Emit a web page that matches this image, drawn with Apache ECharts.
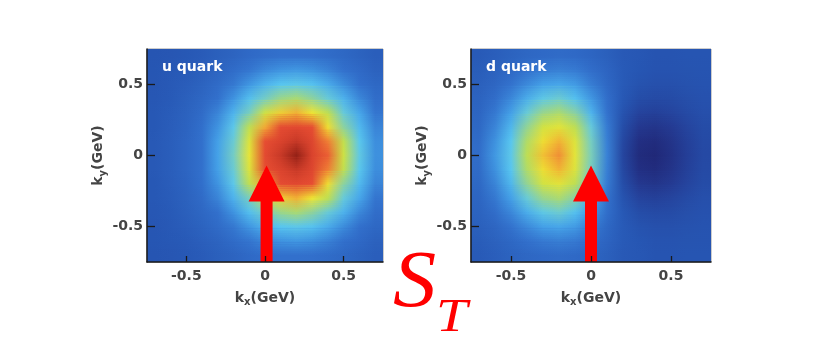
<!DOCTYPE html>
<html>
<head>
<meta charset="utf-8">
<script src="https://cdn.jsdelivr.net/npm/echarts@6/dist/echarts.min.js"></script>
<style>
html,body{margin:0;padding:0;background:#fff;}
#chart{width:832px;height:356px;}
</style>
</head>
<body>
<div id="chart"></div>
<script>
// grid of transverse momenta (GeV), cell centres
const kxValues = [-0.7,-0.6,-0.5,-0.4,-0.3,-0.2,-0.1,0,0.1,0.2,0.3,0.4,0.5,0.6,0.7];
const kyValues = [-0.7,-0.6,-0.5,-0.4,-0.3,-0.2,-0.1,0,0.1,0.2,0.3,0.4,0.5,0.6,0.7];
const tickValues = [-0.5, 0, 0.5];

// u quark density (rows: ky from -0.7 up to 0.7; columns: kx from -0.7 to 0.7)
const uDensity = [
  [0,0.005,0.012,0.022,0.04,0.055,0.075,0.09,0.10,0.10,0.097,0.085,0.07,0.05,0.035],
  [0.003,0.01,0.02,0.038,0.055,0.085,0.11,0.145,0.17,0.18,0.165,0.135,0.10,0.075,0.048],
  [0.005,0.014,0.03,0.05,0.08,0.115,0.175,0.245,0.30,0.31,0.29,0.225,0.155,0.10,0.07],
  [0.008,0.018,0.04,0.065,0.10,0.17,0.28,0.36,0.435,0.46,0.415,0.335,0.245,0.147,0.09],
  [0.01,0.025,0.048,0.08,0.14,0.245,0.37,0.525,0.63,0.67,0.60,0.49,0.33,0.21,0.11],
  [0.012,0.03,0.053,0.095,0.17,0.31,0.49,0.68,0.82,0.84,0.81,0.61,0.41,0.265,0.14],
  [0.015,0.033,0.06,0.10,0.195,0.34,0.555,0.81,0.88,0.92,0.86,0.735,0.495,0.305,0.16],
  [0.015,0.035,0.06,0.10,0.20,0.36,0.58,0.83,0.92,0.99,0.88,0.78,0.52,0.32,0.165],
  [0.015,0.033,0.06,0.10,0.195,0.34,0.555,0.81,0.88,0.92,0.86,0.735,0.495,0.305,0.16],
  [0.012,0.03,0.053,0.095,0.17,0.31,0.49,0.68,0.82,0.84,0.81,0.61,0.41,0.265,0.14],
  [0.01,0.025,0.048,0.08,0.14,0.245,0.37,0.525,0.63,0.67,0.60,0.49,0.33,0.21,0.11],
  [0.008,0.018,0.04,0.065,0.10,0.17,0.28,0.36,0.435,0.46,0.415,0.335,0.245,0.147,0.09],
  [0.005,0.014,0.03,0.05,0.08,0.115,0.175,0.245,0.30,0.31,0.29,0.225,0.155,0.10,0.07],
  [0.003,0.01,0.02,0.038,0.055,0.085,0.11,0.145,0.17,0.18,0.165,0.135,0.10,0.075,0.048],
  [0,0.005,0.012,0.022,0.04,0.055,0.075,0.09,0.10,0.10,0.097,0.085,0.07,0.05,0.035]
];

// d quark density (same layout)
const dDensity = [
  [0.02,0.035,0.05,0.065,0.075,0.08,0.075,0.06,0.04,0.015,0.006,-0.002,-0.002,-0.001,0],
  [0.028,0.047,0.07,0.10,0.12,0.13,0.12,0.09,0.056,0.02,0.002,-0.007,-0.007,-0.005,-0.002],
  [0.04,0.063,0.105,0.15,0.195,0.21,0.185,0.125,0.07,0.018,-0.008,-0.018,-0.018,-0.012,-0.006],
  [0.05,0.09,0.145,0.23,0.315,0.345,0.286,0.18,0.093,0.01,-0.03,-0.042,-0.036,-0.024,-0.013],
  [0.06,0.115,0.195,0.335,0.43,0.46,0.403,0.25,0.105,-0.008,-0.065,-0.078,-0.064,-0.04,-0.022],
  [0.07,0.14,0.255,0.42,0.53,0.568,0.49,0.332,0.122,-0.03,-0.11,-0.125,-0.10,-0.062,-0.034],
  [0.082,0.165,0.30,0.47,0.61,0.666,0.556,0.365,0.13,-0.05,-0.148,-0.162,-0.128,-0.078,-0.042],
  [0.09,0.18,0.31,0.49,0.65,0.716,0.575,0.378,0.135,-0.06,-0.165,-0.18,-0.14,-0.085,-0.045],
  [0.082,0.165,0.30,0.47,0.61,0.666,0.556,0.365,0.13,-0.05,-0.148,-0.162,-0.128,-0.078,-0.042],
  [0.07,0.14,0.255,0.42,0.53,0.568,0.49,0.332,0.122,-0.03,-0.11,-0.125,-0.10,-0.062,-0.034],
  [0.06,0.115,0.195,0.335,0.43,0.46,0.403,0.25,0.105,-0.008,-0.065,-0.078,-0.064,-0.04,-0.022],
  [0.05,0.09,0.145,0.23,0.315,0.345,0.286,0.18,0.093,0.01,-0.03,-0.042,-0.036,-0.024,-0.013],
  [0.04,0.063,0.105,0.15,0.195,0.21,0.185,0.125,0.07,0.018,-0.008,-0.018,-0.018,-0.012,-0.006],
  [0.028,0.047,0.07,0.10,0.12,0.13,0.12,0.09,0.056,0.02,0.002,-0.007,-0.007,-0.005,-0.002],
  [0.02,0.035,0.05,0.065,0.075,0.08,0.075,0.06,0.04,0.015,0.006,-0.002,-0.002,-0.001,0]
];

// spin arrows: [kx, tail ky, tip ky]
const uArrow = [[0.01, -0.75, -0.07]];
const dArrow = [[0.0, -0.75, -0.07]];

const panelTitles = ['u quark', 'd quark'];

// colour scale (evenly spaced from -0.2 to 1.0)
const CMIN = -0.2, CMAX = 1.0;
const CMAP = ['#1f2472', '#243a92', '#2655b2', '#3270cc', '#45a2e8', '#58c6f0', '#86d0a8',
              '#c4e04a', '#eee533', '#f29a35', '#e84e33', '#d6402c', '#8c1c14'];
const CMAP_RGB = CMAP.map(h => [parseInt(h.slice(1, 3), 16), parseInt(h.slice(3, 5), 16), parseInt(h.slice(5, 7), 16)]);
function colorOf(v) {
  let t = (v - CMIN) / (CMAX - CMIN);
  t = Math.max(0, Math.min(1, t)) * (CMAP.length - 1);
  const a = Math.floor(t), b = Math.min(a + 1, CMAP.length - 1), f = t - a;
  const c = [0, 1, 2].map(k => Math.round(CMAP_RGB[a][k] + (CMAP_RGB[b][k] - CMAP_RGB[a][k]) * f));
  return 'rgb(' + c.join(',') + ')';
}

const FONT = 'DejaVu Sans';
const TXT = '#444444';
const grids = [
  {left: 147, top: 49, width: 236, height: 213},
  {left: 471, top: 49, width: 240, height: 213}
];

const xAxes = [], yAxes = [], series = [];
const nameRich = {s: {fontSize: 10, fontWeight: 'bold', lineHeight: 20, verticalAlign: 'bottom', fontFamily: FONT, color: TXT}};
grids.forEach((g, gi) => {
  xAxes.push({type: 'category', gridIndex: gi, data: kxValues, show: false, position: 'top'});
  yAxes.push({type: 'category', gridIndex: gi, data: kyValues, show: false, position: 'right'});
  xAxes.push({
    type: 'value', gridIndex: gi, min: -0.75, max: 0.75, splitNumber: 3, z: 10, position: 'bottom',
    axisLine: {show: true, onZero: false, lineStyle: {color: '#1a1a1a', width: 1.5}},
    axisTick: {show: true, inside: true, length: 6, customValues: tickValues, lineStyle: {color: '#1a1a1a', width: 1.3}},
    axisLabel: {customValues: tickValues, color: TXT, fontSize: 14, fontWeight: 'bold', fontFamily: FONT, margin: 7,
      formatter: v => (Math.abs(v) === 0.75 ? '' : String(v))},
    splitLine: {show: false},
    name: 'k{s|x}(GeV)', nameLocation: 'middle', nameGap: 24,
    nameTextStyle: {color: TXT, fontSize: 14, fontWeight: 'bold', fontFamily: FONT, lineHeight: 20, rich: nameRich}
  });
  yAxes.push({
    type: 'value', gridIndex: gi, min: -0.75, max: 0.75, splitNumber: 3, z: 10, position: 'left',
    axisLine: {show: true, onZero: false, lineStyle: {color: '#1a1a1a', width: 1.5}},
    axisTick: {show: true, inside: true, length: 8, customValues: tickValues, lineStyle: {color: '#1a1a1a', width: 1.3}},
    axisLabel: {customValues: tickValues, color: TXT, fontSize: 14, fontWeight: 'bold', fontFamily: FONT, margin: 4,
      formatter: v => (Math.abs(v) === 0.75 ? '' : String(v))},
    splitLine: {show: false},
    name: 'k{s|y}(GeV)', nameLocation: 'middle', nameGap: 26,
    nameTextStyle: {color: TXT, fontSize: 14, fontWeight: 'bold', fontFamily: FONT, lineHeight: 20, rich: nameRich}
  });
});

// smooth (gouraud-like) rendering of the density rows: each row is a horizontal colour
// gradient through its cell centres, blended towards the next row with stepped opacity
function smoothRender(matrix) {
  const K = 8;
  return function (params, api) {
    const j = params.dataIndex;
    const nRows = matrix.length, nCols = matrix[j].length;
    const cs = params.coordSys;
    const left = cs.x, width = cs.width;
    function grad(row) {
      const stops = [{offset: 0, color: colorOf(row[0])}];
      for (let i = 0; i < nCols; i++) {
        const px = api.coord([i, j])[0];
        stops.push({offset: (px - left) / width, color: colorOf(row[i])});
      }
      stops.push({offset: 1, color: colorOf(row[nCols - 1])});
      return new echarts.graphic.LinearGradient(0, 0, 1, 0, stops);
    }
    const yc = api.coord([0, j])[1];
    const h = api.size([1, 1])[1];
    const children = [];
    if (j === 0) {
      children.push({type: 'rect', shape: {x: left, y: yc - 0.5, width: width, height: h / 2 + 1}, style: {fill: grad(matrix[0])}});
    }
    if (j === nRows - 1) {
      children.push({type: 'rect', shape: {x: left, y: yc - h / 2 - 0.5, width: width, height: h / 2 + 1}, style: {fill: grad(matrix[j])}});
    } else {
      children.push({type: 'rect', shape: {x: left, y: yc - h - 0.5, width: width, height: h + 1}, style: {fill: grad(matrix[j])}});
      const g2 = grad(matrix[j + 1]);
      for (let k = 0; k < K; k++) {
        const y1 = yc - h * (k + 1) / K;
        const y0 = yc - h * k / K;
        children.push({type: 'rect', shape: {x: left, y: y1, width: width, height: y0 - y1},
          style: {fill: g2, opacity: (k + 0.5) / K}});
      }
    }
    return {type: 'group', children: children};
  };
}
series.push({type: 'custom', xAxisIndex: 0, yAxisIndex: 0, data: uDensity.map((row, j) => [0, j]),
  renderItem: smoothRender(uDensity), encode: {x: 0, y: 1}, clip: true, silent: true, z: 2});
series.push({type: 'custom', xAxisIndex: 2, yAxisIndex: 2, data: dDensity.map((row, j) => [0, j]),
  renderItem: smoothRender(dDensity), encode: {x: 0, y: 1}, clip: true, silent: true, z: 2});

function arrowRender(params, api) {
  const tail = api.coord([api.value(0), api.value(1)]);
  const tip = api.coord([api.value(0), api.value(2)]);
  const sw = 6, hw = 18, hl = 36;
  const x = tip[0];
  return {
    type: 'polygon',
    shape: {points: [
      [x - sw, tail[1]], [x - sw, tip[1] + hl], [x - hw, tip[1] + hl], [x, tip[1]],
      [x + hw, tip[1] + hl], [x + sw, tip[1] + hl], [x + sw, tail[1]]
    ]},
    style: {fill: '#ff0000', stroke: null}
  };
}
series.push({type: 'custom', xAxisIndex: 1, yAxisIndex: 1, data: uArrow, renderItem: arrowRender, z: 5, clip: true, silent: true});
series.push({type: 'custom', xAxisIndex: 3, yAxisIndex: 3, data: dArrow, renderItem: arrowRender, z: 5, clip: true, silent: true});

const option = {
  animation: false,
  backgroundColor: '#ffffff',
  grid: grids.map(g => Object.assign({show: true, borderColor: '#9a9a9a', borderWidth: 1, backgroundColor: 'transparent'}, g)),
  xAxis: xAxes,
  yAxis: yAxes,
  title: panelTitles.map((t, i) => ({
    text: t, left: grids[i].left + 10, top: 55,
    textStyle: {color: '#ffffff', fontSize: 14, fontWeight: 'bold', fontFamily: FONT}
  })),
  graphic: [
    {type: 'text', x: 393, y: 245, scaleX: 1.08, z: 100,
     style: {text: 'S', fill: '#ff0000', font: 'italic 80px "Liberation Serif"', verticalAlign: 'top', align: 'left'}},
    {type: 'text', x: 436, y: 295, scaleX: 1.2, z: 100,
     style: {text: 'T', fill: '#ff0000', font: 'italic 47px "Liberation Serif"', verticalAlign: 'top', align: 'left'}}
  ],
  series: series
};

const chart = echarts.init(document.getElementById('chart'), null, {renderer: 'canvas'});
chart.setOption(option);
</script>
</body>
</html>
